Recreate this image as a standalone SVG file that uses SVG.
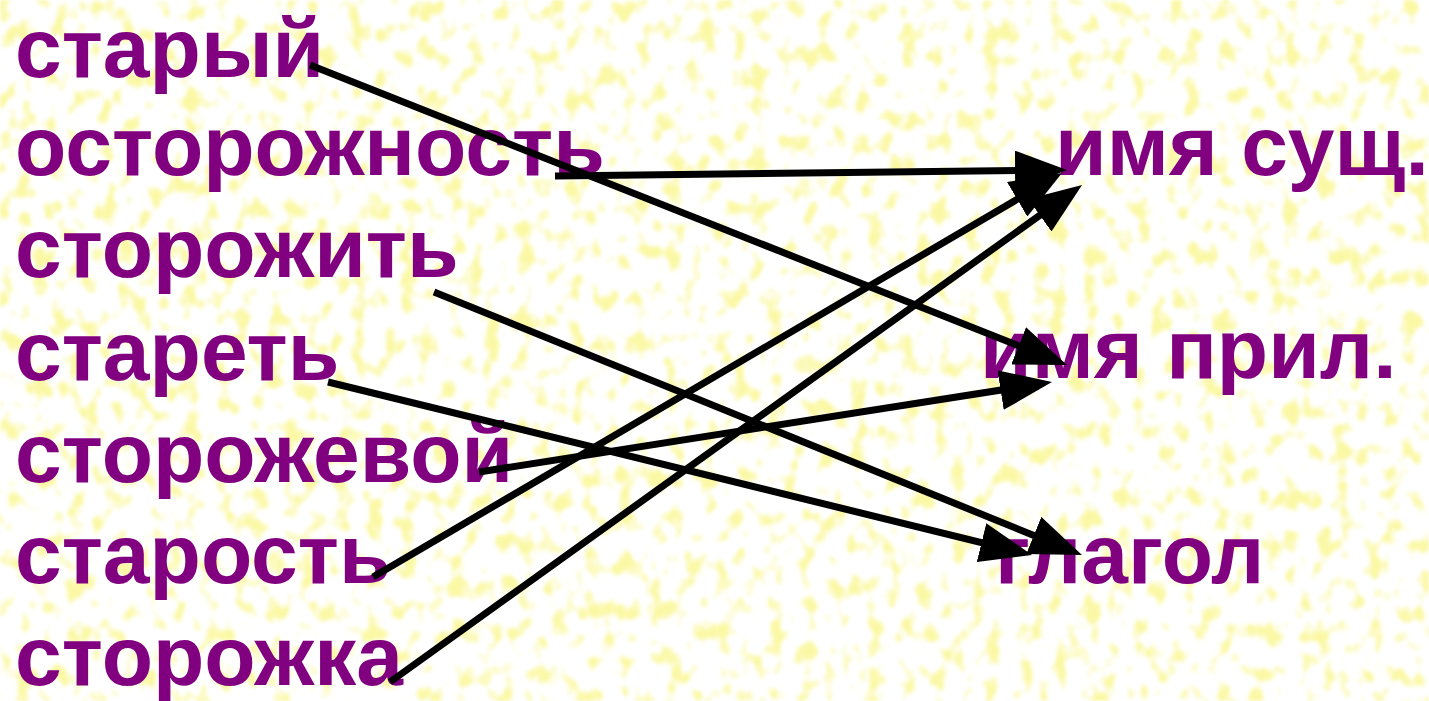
<svg xmlns="http://www.w3.org/2000/svg" width="1429" height="701" viewBox="0 0 1429 701">
<style>
.w{font-family:"Liberation Sans",Arial,sans-serif;font-weight:bold;font-size:84px;fill:#800080}
.c{stroke:#000;stroke-width:7;fill:none;marker-end:url(#ah)}
</style>
<defs>
<marker id="ah" markerUnits="userSpaceOnUse" viewBox="0 0 52 40" refX="42" refY="20" markerWidth="52" markerHeight="40" orient="auto">
<path d="M0,0 L52,20 L0,40 z" fill="#000"/>
</marker>
<filter id="speck" x="0" y="0" width="100%" height="100%">
<feTurbulence type="fractalNoise" baseFrequency="0.06 0.045" numOctaves="2" seed="11" result="n"/>
<feColorMatrix in="n" type="matrix" values="0 0 0 0 0  0 0 0 0 0  0 0 0 0 0  5 0 0 0 -2.6" result="a"/>
<feGaussianBlur in="a" stdDeviation="1.5" result="b"/>
<feFlood flood-color="#f8f46a"/>
<feComposite in2="b" operator="in"/>
</filter>
</defs>
<rect width="1429" height="701" fill="#fff"/>
<rect width="1429" height="701" filter="url(#speck)" opacity="0.6"/>
<g id="left-words">
<g id="w1"><text class="w" x="15" y="77">старый</text></g>
<g id="w2"><text class="w" x="15" y="175">осторожность</text></g>
<g id="w3"><text class="w" x="15" y="277">сторожить</text></g>
<g id="w4"><text class="w" x="15" y="380">стареть</text></g>
<g id="w5"><text class="w" x="15" y="482">сторожевой</text></g>
<g id="w6"><text class="w" x="15" y="583">старость</text></g>
<g id="w7"><text class="w" x="15" y="685">сторожка</text></g>
</g>
<g id="right-words">
<g id="n1"><text class="w" x="1055" y="175">имя сущ.</text></g>
<g id="n2"><text class="w" x="980" y="378">имя прил.</text></g>
<g id="n3"><text class="w" x="995" y="583">глагол</text></g>
</g>
<g id="connectors">
<line class="c" x1="310" y1="65" x2="1057.7" y2="361.3"/>
<line class="c" x1="555" y1="176" x2="1057" y2="170.1"/>
<line class="c" x1="434" y1="292" x2="1072.7" y2="551.2"/>
<line class="c" x1="328" y1="382" x2="1022.3" y2="552.6"/>
<line class="c" x1="479" y1="472" x2="1042.1" y2="383.6"/>
<line class="c" x1="373" y1="577" x2="1053.4" y2="178.1"/>
<line class="c" x1="390" y1="682" x2="1073.9" y2="190.8"/>
</g>
</svg>
